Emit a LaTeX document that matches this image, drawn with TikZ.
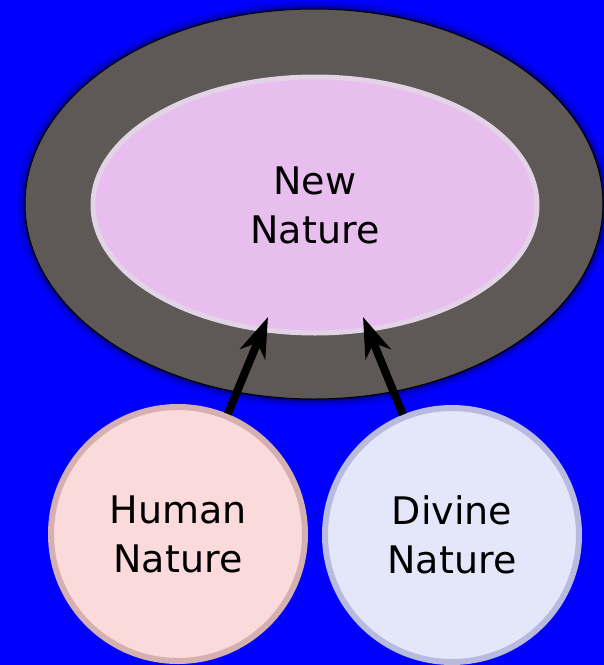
\documentclass[tikz,border=0pt]{standalone}
\usepackage{fontspec}
\setmainfont{DejaVu Sans}
\usetikzlibrary{shapes.geometric,arrows.meta}
\definecolor{bgblue}{RGB}{0,0,255}
\definecolor{rimgrey}{RGB}{94,88,86}
\definecolor{newfill}{RGB}{232,190,238}
\definecolor{newedge}{RGB}{226,212,230}
\definecolor{humanfill}{RGB}{250,218,218}
\definecolor{humanedge}{RGB}{214,176,176}
\definecolor{divinefill}{RGB}{228,230,250}
\definecolor{divineedge}{RGB}{184,186,222}
\begin{document}
\begin{tikzpicture}[
    x=1pt, y=-1pt,
    line join=round,
    >={Stealth[length=40pt,width=27pt,inset=12pt]},
    every node/.style={font=\fontsize{38}{49}\selectfont,align=center,inner sep=0pt},
    oval/.style={ellipse,outer sep=0pt},
    nature/.style={circle,minimum size=254pt,line width=6pt},
    link/.style={->,line width=8pt,line cap=butt,draw=black}
]
    % Blue page with the picture's own margins.
    \fill[bgblue] (0,0) rectangle (604,665);
    \useasboundingbox (0,0) rectangle (604,665);

    % Soft shadow round the dark outer ring.
    \foreach \w/\o in {16/0.10,9/0.16,4/0.25}
        \draw[black,opacity=\o,line width=\w pt] (314,204) ellipse [x radius=289,y radius=195];
    \node[oval,fill=rimgrey,draw=black,line width=1pt,
        minimum width=578pt,minimum height=390pt] (rim) at (314,204) {};

    % The joined nature and the two that flow into it.
    \node[oval,fill=newfill,draw=newedge,line width=5pt,
        minimum width=444pt,minimum height=256pt] (newnat) at (315,205) {New\\Nature};
    \node[nature,fill=humanfill,draw=humanedge] (human) at (178,534) {Human\\Nature};
    \node[nature,fill=divinefill,draw=divineedge] (divine) at (452,535) {Divine\\Nature};

    \coordinate (tipL) at (268,317);
    \coordinate (tipR) at (363,317);
    \draw[link] (human) -- (tipL);
    \draw[link] (divine) -- (tipR);
\end{tikzpicture}
\end{document}
